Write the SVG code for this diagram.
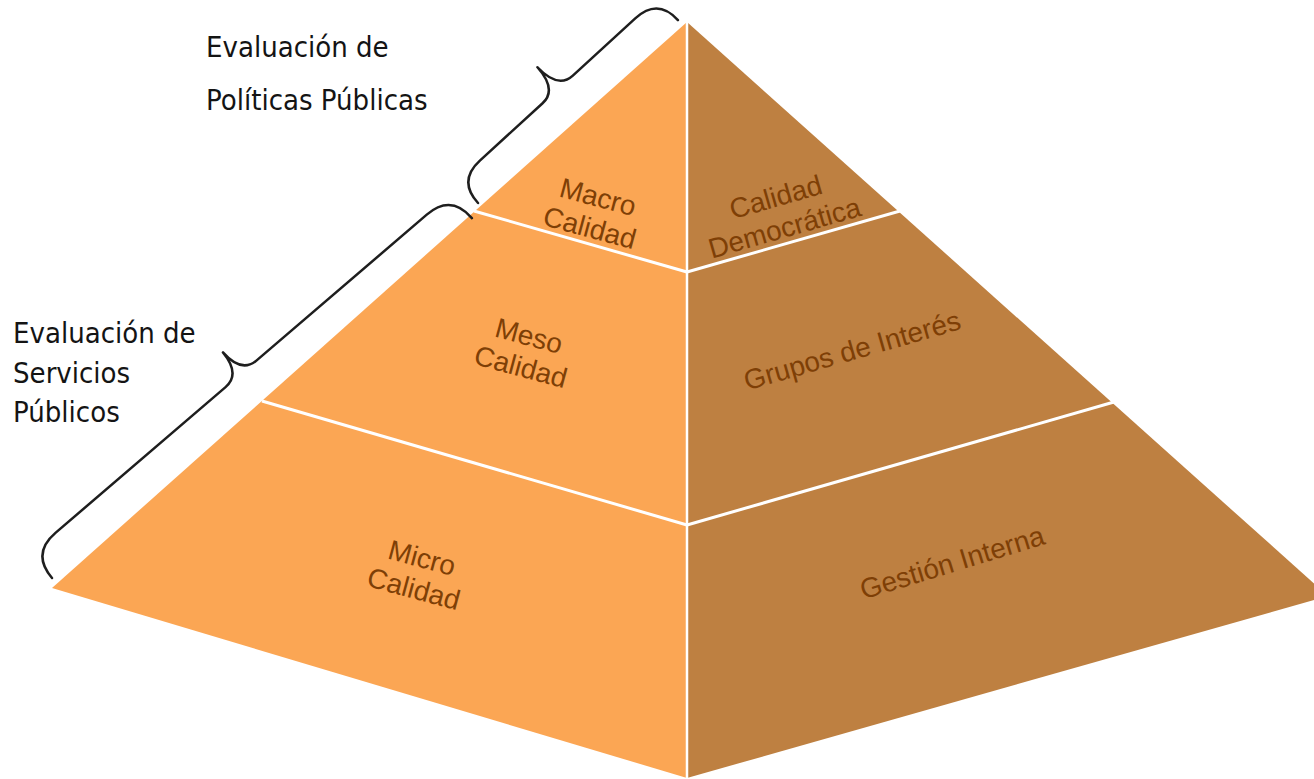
<svg xmlns="http://www.w3.org/2000/svg" width="1314" height="779" viewBox="0 0 1314 779">
<style>
.lf{fill:#FBA654;}
.rf{fill:#BE8041;}
.div{stroke:#FFFFFF;stroke-width:3;fill:none;}
.lbl{font-family:"Liberation Sans",Arial,sans-serif;font-size:28px;fill:#7E3F06;text-anchor:middle;}
.side{font-family:"DejaVu Sans Condensed","DejaVu Sans",sans-serif;font-size:29px;fill:#141414;}
.brace{fill:none;stroke:#1E1E1E;stroke-width:2.5;stroke-linecap:round;stroke-linejoin:round;}
</style>
<rect width="1314" height="779" fill="#FFFFFF"/>
<g id="pyramid">
<polygon class="lf" points="687,22 52,588 687,778"/>
<polygon class="rf" points="687,22 687,778 1328,596"/>
</g>
<g id="connectors">
<line class="div" x1="474" y1="211" x2="687" y2="272"/>
<line class="div" x1="687" y1="272" x2="900" y2="211"/>
<line class="div" x1="262" y1="401" x2="687" y2="525"/>
<line class="div" x1="687" y1="525" x2="1114" y2="402"/>
<line class="div" x1="687" y1="22" x2="687" y2="779" style="stroke-width:2.5"/>
<path id="brace-top" class="brace" transform="translate(478,203) rotate(-42.46)" d="M0,0 Q0,-30 30,-30 L115,-30 Q135,-30 135.5,-60 Q136,-30 156,-30 L241,-30 Q271,-30 271,0"/>
<path id="brace-bottom" class="brace" transform="translate(52,578) rotate(-40.6)" d="M0,0 Q0,-32 32,-32 L256,-32 Q276,-32 276.6,-60 Q277,-32 297,-32 L521,-32 Q553,-32 553,0"/>
</g>
<g id="macro">
<g transform="translate(594,212) rotate(15)"><text class="lbl" x="0" y="-6">Macro</text><text class="lbl" x="0" y="26">Calidad</text></g>
</g>
<g id="meso">
<g transform="translate(525,351) rotate(15)"><text class="lbl" x="0" y="-6">Meso</text><text class="lbl" x="0" y="26">Calidad</text></g>
</g>
<g id="micro">
<g transform="translate(418,573) rotate(15)"><text class="lbl" x="0" y="-6">Micro</text><text class="lbl" x="0" y="26">Calidad</text></g>
</g>
<g id="democratica">
<g transform="translate(780,212) rotate(-16)"><text class="lbl" x="0" y="-6">Calidad</text><text class="lbl" x="0" y="26">Democrática</text></g>
</g>
<g id="grupos">
<g transform="translate(852,350) rotate(-16)"><text class="lbl" x="0" y="10">Grupos de Interés</text></g>
</g>
<g id="gestion">
<g transform="translate(952,562) rotate(-17)"><text class="lbl" x="0" y="10">Gestión Interna</text></g>
</g>
<g id="label-politicas">
<text class="side" x="206" y="57">Evaluación de</text>
<text class="side" x="206" y="110">Políticas Públicas</text>
</g>
<g id="label-servicios">
<text class="side" x="13" y="343">Evaluación de</text>
<text class="side" x="13" y="383">Servicios</text>
<text class="side" x="13" y="422">Públicos</text>
</g>
</svg>
